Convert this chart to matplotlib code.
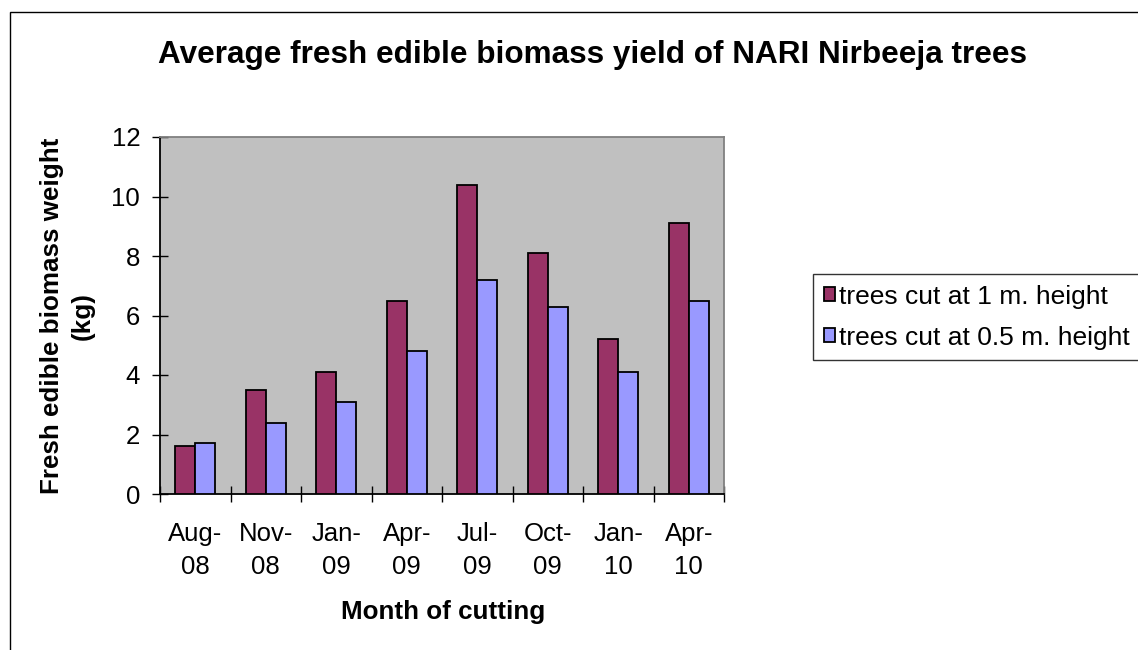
import numpy as np
import matplotlib
matplotlib.use("Agg")
import matplotlib.pyplot as plt
from matplotlib.patches import Rectangle

plt.rcParams['font.family'] = ['Liberation Sans', 'DejaVu Sans']

months = ['Aug-\n08', 'Nov-\n08', 'Jan-\n09', 'Apr-\n09', 'Jul-\n09', 'Oct-\n09', 'Jan-\n10', 'Apr-\n10']
cut_1m = [1.6, 3.5, 4.1, 6.5, 10.4, 8.1, 5.2, 9.1]
cut_05m = [1.7, 2.4, 3.1, 4.8, 7.2, 6.3, 4.1, 6.5]

MAROON = '#993366'
LILAC = '#9999FF'
PLOT_BG = '#C0C0C0'

W, H = 1138, 650
fig = plt.figure(figsize=(W / 100, H / 100), dpi=100, facecolor='white')

# outer chart frame (runs off right/bottom edge like the screenshot)
fig.patches.append(Rectangle((10 / W, -0.05), 1.2, 1 - 12 / H + 0.05,
                             transform=fig.transFigure, fill=False,
                             edgecolor='black', linewidth=1.0))

ax = fig.add_axes([160 / W, 1 - 494 / H, 564 / W, 357 / H])
ax.set_facecolor(PLOT_BG)

x = np.arange(len(months))
w = 1 / 3.5
ax.bar(x - w / 2, cut_1m, w, color=MAROON, edgecolor='black', linewidth=1.3,
       label='trees cut at 1 m. height', zorder=3)
ax.bar(x + w / 2, cut_05m, w, color=LILAC, edgecolor='black', linewidth=1.3,
       label='trees cut at 0.5 m. height', zorder=3)

ax.set_xlim(-0.5, len(months) - 0.5)
ax.set_ylim(0, 12)
ax.set_yticks(range(0, 13, 2))

# ticks at category boundaries, labels at centres
ax.set_xticks(np.arange(-0.5, len(months), 1.0))
ax.set_xticklabels([])
ax.set_xticks(x, minor=True)
ax.set_xticklabels(months, minor=True, fontsize=18.5, linespacing=1.48)
ax.tick_params(axis='x', which='minor', length=0, pad=20)
ax.tick_params(axis='x', which='major', direction='inout', length=11.5, width=1)
ax.tick_params(axis='y', direction='inout', length=11.5, width=1, labelsize=18.5, pad=8.5)

for side in ('top', 'right'):
    ax.spines[side].set_color('#808080')
    ax.spines[side].set_linewidth(1.3)
for side in ('left', 'bottom'):
    ax.spines[side].set_color('black')
    ax.spines[side].set_linewidth(1.3)

fig.text(443 / W, 1 - 612 / H, 'Month of cutting', ha='center', va='center',
         fontsize=18.7, fontweight='bold')
fig.text(67 / W, 1 - 316 / H, 'Fresh edible biomass weight\n(kg)', ha='center', va='center',
         rotation=90, fontsize=18.7, fontweight='bold', linespacing=1.35,
         multialignment='center')

fig.text(592 / W, 1 - 55 / H, 'Average fresh edible biomass yield of NARI Nirbeeja trees',
         ha='center', va='center', fontsize=22.7, fontweight='bold')

leg = fig.legend(loc='upper left', bbox_to_anchor=(813 / W, 1 - 274 / H),
                 fontsize=19, frameon=True, fancybox=False, edgecolor='black',
                 handlelength=0.45, handleheight=0.45, handletextpad=0.15,
                 labelspacing=0.65, borderpad=0.4, borderaxespad=0)
leg.get_frame().set_linewidth(1.0)

fig.savefig('out.png', dpi=100, facecolor='white')
